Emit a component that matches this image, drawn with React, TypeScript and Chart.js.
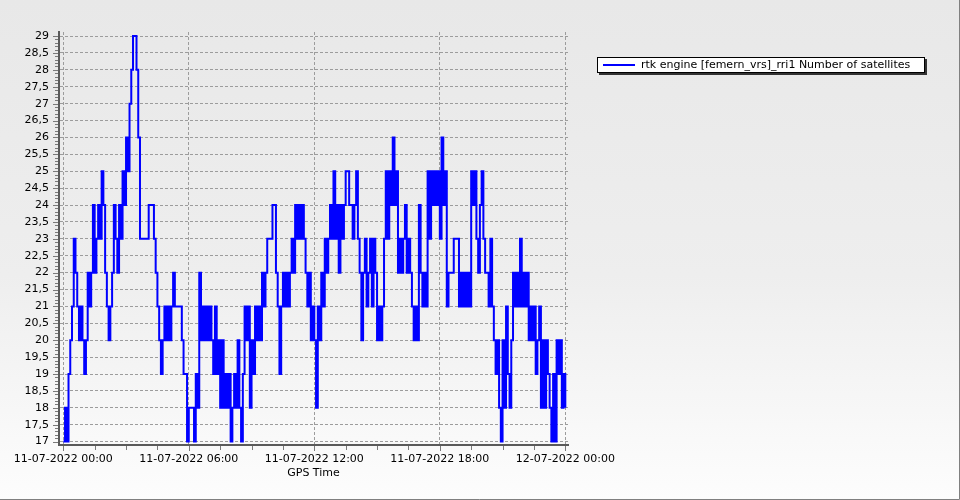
import React, { useEffect, useRef } from "react";
import { Chart, registerables } from "chart.js";

Chart.register(...registerables);

const seriesLabel = "rtk engine [femern_vrs]_rri1 Number of satellites";
const xAxisTitle = "GPS Time";
// one reading every 5 minutes, starting 11-07-2022 00:00
const sampleMinutes = 5;
const satellites = [
  17, 18, 17, 19, 20, 21, 23, 22, 21, 20,
  21, 20, 19, 20, 22, 21, 22, 24, 22, 23,
  24, 23, 25, 24, 22, 21, 20, 21, 22, 24,
  23, 22, 24, 23, 25, 24, 26, 25, 27, 28,
  29, 29, 28, 26, 23, 23, 23, 23, 23, 24,
  24, 24, 23, 22, 21, 20, 19, 20, 21, 20,
  21, 20, 21, 22, 21, 21, 21, 21, 20, 19,
  19, 17, 18, 18, 18, 17, 19, 18, 22, 20,
  21, 20, 21, 20, 21, 20, 19, 21, 19, 20,
  18, 20, 18, 19, 18, 19, 17, 18, 19, 18,
  20, 18, 17, 19, 21, 20, 21, 18, 20, 19,
  21, 20, 21, 20, 22, 21, 22, 23, 23, 23,
  24, 24, 22, 21, 19, 21, 22, 21, 22, 21,
  22, 23, 22, 24, 23, 24, 23, 24, 23, 22,
  21, 22, 20, 21, 20, 18, 21, 20, 22, 21,
  23, 22, 23, 24, 23, 25, 23, 24, 22, 24,
  23, 24, 25, 25, 24, 24, 23, 24, 25, 23,
  22, 20, 22, 23, 21, 22, 23, 21, 23, 22,
  20, 21, 20, 21, 23, 25, 23, 25, 24, 26,
  24, 25, 22, 23, 22, 23, 24, 22, 23, 22,
  21, 20, 21, 20, 24, 22, 21, 22, 21, 25,
  23, 25, 24, 25, 24, 25, 23, 26, 24, 25,
  21, 22, 22, 22, 23, 23, 23, 21, 22, 21,
  22, 21, 22, 21, 25, 24, 25, 23, 22, 24,
  25, 23, 22, 22, 21, 23, 21, 20, 19, 20,
  18, 17, 20, 18, 21, 19, 18, 20, 22, 21,
  22, 21, 23, 21, 22, 21, 22, 20, 21, 20,
  21, 19, 20, 21, 18, 20, 18, 20, 19, 18,
  17, 19, 17, 20, 19, 20, 18, 19, 18,
];
const xTickMinutes = [0, 360, 720, 1080, 1440];
const xTickLabels = [
  "11-07-2022 00:00",
  "11-07-2022 06:00",
  "11-07-2022 12:00",
  "11-07-2022 18:00",
  "12-07-2022 00:00",
];
const yTickValues = [
  17, 17.5, 18, 18.5, 19, 19.5, 20, 20.5, 21, 21.5, 22, 22.5, 23,
  23.5, 24, 24.5, 25, 25.5, 26, 26.5, 27, 27.5, 28, 28.5, 29,
];

const FONT = "DejaVu Sans";

const decorPlugin = {
  id: "decor",
  beforeDraw(chart: any) {
    const { ctx, width, height } = chart;
    ctx.save();
    const g = ctx.createLinearGradient(0, 0, 0, height);
    g.addColorStop(0, "#e8e8e8");
    g.addColorStop(0.55, "#eeeeee");
    g.addColorStop(1, "#fdfdfd");
    ctx.fillStyle = g;
    ctx.fillRect(0, 0, width, height);
    ctx.strokeStyle = "#808080";
    ctx.lineWidth = 1;
    ctx.beginPath();
    ctx.moveTo(width - 0.5, 0);
    ctx.lineTo(width - 0.5, height - 0.5);
    ctx.lineTo(0, height - 0.5);
    ctx.stroke();
    ctx.restore();
  },
  afterDraw(chart: any) {
    const { ctx, chartArea, scales } = chart;
    const xs = scales.x;
    const ys = scales.y;
    ctx.save();
    ctx.lineWidth = 1;
    ctx.strokeStyle = "#7a7a7a";
    ctx.beginPath();
    // y axis ticks (major at labels, 4 minor between)
    for (let k = 0; k < yTickValues.length; k++) {
      const py = Math.round(ys.getPixelForValue(yTickValues[k])) + 0.5;
      ctx.moveTo(chartArea.left - 6, py);
      ctx.lineTo(chartArea.left - 1, py);
      if (k < yTickValues.length - 1) {
        const a = yTickValues[k];
        const b = yTickValues[k + 1];
        for (let m = 1; m < 5; m++) {
          const pm = Math.round(ys.getPixelForValue(a + ((b - a) * m) / 5)) + 0.5;
          ctx.moveTo(chartArea.left - 4, pm);
          ctx.lineTo(chartArea.left - 1, pm);
        }
      }
    }
    // x axis ticks (major at labels, 3 minor between)
    for (let k = 0; k < xTickMinutes.length; k++) {
      const px = Math.round(xs.getPixelForValue(xTickMinutes[k])) + 0.5;
      ctx.moveTo(px, chartArea.bottom + 1);
      ctx.lineTo(px, chartArea.bottom + 6);
      if (k < xTickMinutes.length - 1) {
        const a = xTickMinutes[k];
        const b = xTickMinutes[k + 1];
        for (let m = 1; m < 4; m++) {
          const pm = Math.round(xs.getPixelForValue(a + ((b - a) * m) / 4)) + 0.5;
          ctx.moveTo(pm, chartArea.bottom + 1);
          ctx.lineTo(pm, chartArea.bottom + 5);
        }
      }
    }
    ctx.stroke();

    // legend box
    const bx = 597, by = 57, bw = 328, bh = 16;
    ctx.fillStyle = "#333333";
    ctx.fillRect(bx + 2, by + 2, bw, bh);
    ctx.fillStyle = "#ffffff";
    ctx.fillRect(bx, by, bw, bh);
    ctx.strokeStyle = "#000000";
    ctx.strokeRect(bx + 0.5, by + 0.5, bw - 1, bh - 1);
    ctx.strokeStyle = "#0000ff";
    ctx.lineWidth = 2;
    ctx.beginPath();
    ctx.moveTo(603, by + 8);
    ctx.lineTo(635, by + 8);
    ctx.stroke();
    ctx.fillStyle = "#000000";
    ctx.font = `11px "${FONT}"`;
    ctx.textBaseline = "middle";
    ctx.textAlign = "left";
    ctx.fillText(seriesLabel, 641, by + 8.5);
    ctx.restore();
  },
};

export default function App() {
  const canvasRef = useRef<HTMLCanvasElement | null>(null);

  useEffect(() => {
    document.body.style.margin = "0";
    const canvas = canvasRef.current;
    if (!canvas) return;
    const points = satellites.map((v, i) => ({ x: i * sampleMinutes, y: v }));
    const chart = new Chart(canvas, {
      type: "line",
      data: {
        datasets: [
          {
            label: seriesLabel,
            data: points,
            borderColor: "#0000ff",
            backgroundColor: "#0000ff",
            borderWidth: 2,
            pointRadius: 0,
            stepped: true,
            fill: false,
          },
        ],
      },
      options: {
        responsive: false,
        animation: false,
        events: [],
        layout: { padding: { left: 8, right: 392, top: 32, bottom: 10 } },
        plugins: {
          legend: { display: false },
          tooltip: { enabled: false },
        },
        scales: {
          x: {
            type: "linear",
            min: -12.3,
            max: 1447.7,
            afterFit: (axis: any) => {
              axis.height = 45;
            },
            afterBuildTicks: (axis: any) => {
              axis.ticks = xTickMinutes.map((v) => ({ value: v }));
            },
            ticks: {
              autoSkip: false,
              maxRotation: 0,
              padding: 8,
              color: "#000000",
              font: { family: FONT, size: 11 },
              callback: (_v: any, i: number) => xTickLabels[i],
            },
            grid: { color: "#9c9c9c", lineWidth: 1, drawTicks: false },
            border: { display: true, color: "#5a5a5a", width: 2, dash: [3, 2] },
            title: {
              display: true,
              text: xAxisTitle,
              color: "#000000",
              font: { family: FONT, size: 11 },
              padding: { top: 0, bottom: 10 },
            },
          },
          y: {
            type: "linear",
            min: 16.9,
            max: 29.12,
            afterFit: (axis: any) => {
              axis.width = 51;
            },
            afterBuildTicks: (axis: any) => {
              axis.ticks = yTickValues.map((v) => ({ value: v }));
            },
            ticks: {
              autoSkip: false,
              padding: 10,
              color: "#000000",
              font: { family: FONT, size: 11 },
              callback: (v: any) => String(v).replace(".", ","),
            },
            grid: { color: "#9c9c9c", lineWidth: 1, drawTicks: false },
            border: { display: true, color: "#5a5a5a", width: 2, dash: [3, 2] },
          },
        },
      },
      plugins: [decorPlugin],
    });
    return () => chart.destroy();
  }, []);

  return (
    <div style={{ width: 960, height: 500 }}>
      <canvas ref={canvasRef} width={960} height={500} style={{ display: "block" }} />
    </div>
  );
}
